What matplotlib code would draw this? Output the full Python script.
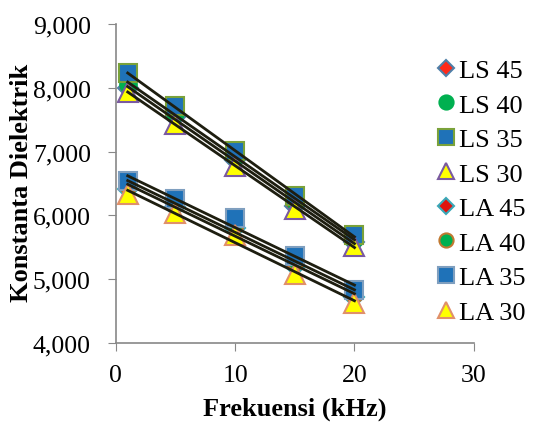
import matplotlib.pyplot as plt
import numpy as np
from matplotlib.lines import Line2D
from matplotlib.ticker import FuncFormatter

plt.rcParams["font.family"] = ["Liberation Serif", "DejaVu Serif"]

freq = [1, 5, 10, 15, 20]

labels = ["LS 45", "LS 40", "LS 35", "LS 30", "LA 45", "LA 40", "LA 35", "LA 30"]
ls45 = [7990, 7540, 6870, 6150, 5580]
ls40 = [8060, 7610, 6930, 6230, 5630]
ls35 = [8230, 7710, 7010, 6300, 5690]
ls30 = [7930, 7440, 6775, 6100, 5520]
la45 = [6420, 6130, 5800, 5210, 4720]
la40 = [6470, 6190, 5870, 5280, 4770]
la35 = [6540, 6257, 5960, 5365, 4830]
la30 = [6330, 6040, 5690, 5080, 4630]
series = [ls45, ls40, ls35, ls30, la45, la40, la35, la30]

# marker, face, edge, size
styles = [
    ("D", "#ff2a1a", "#4f7fa8", 10),
    ("o", "#00b050", "#00b050", 12),
    ("s", "#1f72b8", "#7aa23a", 13),
    ("^", "#ffff00", "#7a5aa0", 14),
    ("D", "#e0140e", "#3aa8b8", 10),
    ("o", "#00b050", "#c07830", 12),
    ("s", "#1f72b8", "#7f9fbf", 13),
    ("^", "#ffff00", "#e0906a", 14),
]


def main() -> None:
    fig = plt.figure(figsize=(5.36, 4.31), dpi=100)
    ax = fig.add_axes([0.216, 0.202, 0.668, 0.740])

    for values, (m, fc, ec, ms) in zip(series, styles):
        ax.plot(freq, values, linestyle="none", marker=m, markersize=ms,
                markerfacecolor=fc, markeredgecolor=ec, markeredgewidth=1.5,
                zorder=2)

    # linear trendlines
    for values in series:
        k, b = np.polyfit(freq, values, 1)
        xs = np.array([freq[0], freq[-1]])
        ax.plot(xs, k * xs + b, color="#1e1e10", linewidth=2.0, zorder=3)

    ax.set_xlim(0, 30)
    ax.set_ylim(4000, 9000)
    ax.set_xticks([0, 10, 20, 30])
    ax.set_yticks(range(4000, 9001, 1000))
    ax.yaxis.set_major_formatter(FuncFormatter(lambda v, p: f"{v:,.0f}"))
    ax.tick_params(labelsize=18.5, length=6, color="#888888")
    ax.tick_params(axis="y", pad=12)
    ax.tick_params(axis="x", pad=9)

    for s in ("top", "right"):
        ax.spines[s].set_visible(False)
    for s in ("left", "bottom"):
        ax.spines[s].set_color("#888888")
        ax.spines[s].set_linewidth(1.2)

    ax.set_xlabel("Frekuensi (kHz)", fontsize=19, fontweight="bold", labelpad=8)
    ax.set_ylabel("Konstanta Dielektrik", fontsize=19, fontweight="bold")
    ax.yaxis.set_label_coords(-0.232, 0.505)

    handles = [
        Line2D([], [], linestyle="none", marker=m, markersize=ms * 0.85,
               markerfacecolor=fc, markeredgecolor=ec, markeredgewidth=1.5)
        for (m, fc, ec, ms) in styles
    ]
    fig.legend(handles, labels, loc="upper left", bbox_to_anchor=(0.815, 0.862),
               frameon=False, fontsize=19, handlelength=0.7, handletextpad=0.15,
               labelspacing=0.42, borderaxespad=0, borderpad=0)

    fig.savefig("out.png", dpi=100)


if __name__ == "__main__":
    main()
